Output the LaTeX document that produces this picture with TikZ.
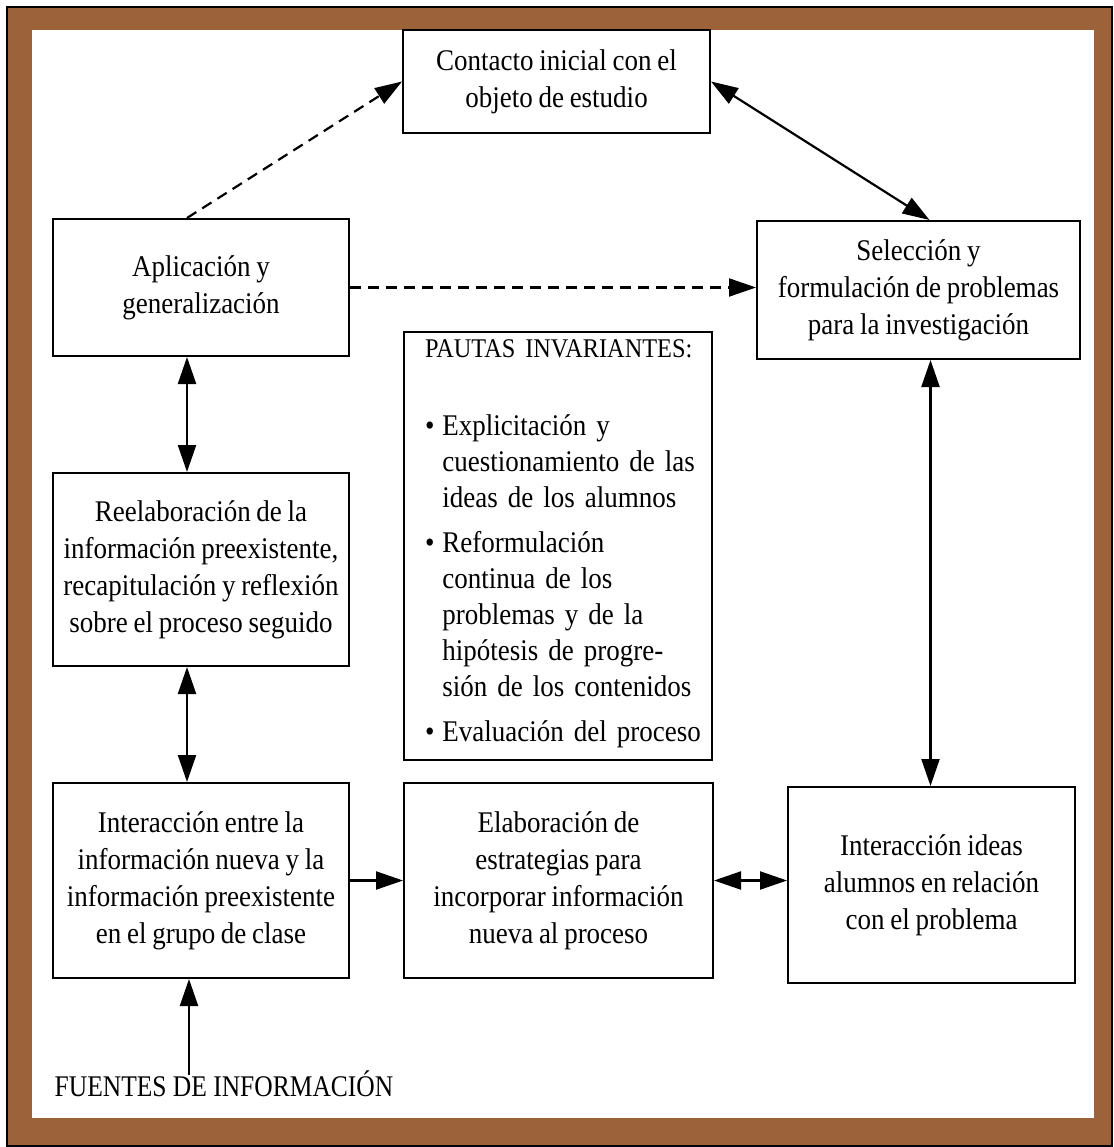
\documentclass[tikz,border=0pt]{standalone}
\usepackage{fontspec}
\setmainfont[FakeStretch=0.9, WordSpace=0.85]{Liberation Serif}
\newfontfamily\sourcefont[FakeStretch=0.85]{Liberation Serif}
\usetikzlibrary{arrows.meta,calc}
\definecolor{framebrown}{HTML}{9C633A}
\begin{document}
\begin{tikzpicture}[x=1pt,y=-1pt,
  txt/.style={font=\fontsize{30}{37}\selectfont},
  box/.style={txt, draw, line width=2pt, align=center, inner sep=0pt},
  link/.style={line width=2.2pt, -{Triangle[length=27pt,width=18pt]}},
  both/.style={line width=2.2pt, {Triangle[length=27pt,width=18pt]}-{Triangle[length=27pt,width=18pt]}},
  dashlink/.style={link, dash pattern=on 11pt off 7pt}]

% page and brown frame
\path[fill=white, use as bounding box] (0,0) rectangle (1113,1147);
\draw[fill=framebrown, line width=2pt] (7,7) rectangle (1112,1146);
\fill[white] (32,30) rectangle (1094,1118);

% boxes
\node[box, minimum width=307pt, minimum height=103pt] (contacto) at (556.5,81.5)
  {Contacto inicial con el\\objeto de estudio};
\node[box, minimum width=323pt, minimum height=138pt] (sel) at (918.5,290)
  {Selección y\\formulación de problemas\\para la investigación};
\node[box, minimum width=296pt, minimum height=137pt] (aplic) at (201,287.5)
  {Aplicación y\\generalización};
\node[box, minimum width=296pt, minimum height=193pt] (reelab) at (201,569.5)
  {Reelaboración de la\\información preexistente,\\recapitulación y reflexión\\sobre el proceso seguido};
\node[box, minimum width=296pt, minimum height=195pt] (inter) at (201,880.5)
  {Interacción entre la\\información nueva y la\\información preexistente\\en el grupo de clase};
\node[box, minimum width=309pt, minimum height=195pt] (elab) at (558.5,880.5)
  {Elaboración de\\estrategias para\\incorporar información\\nueva al proceso};
\node[box, minimum width=287pt, minimum height=196pt] (ideas) at (931.5,885)
  {Interacción ideas\\alumnos en relación\\con el problema};

% central list of invariant guidelines
\node[box, minimum width=308pt, minimum height=428pt, text width=266pt,
      inner xsep=21pt, align=left] (pautas) at (558,546)
  {\makebox[266pt][l]{\fontsize{27}{37}\selectfont PAUTAS INVARIANTES:}\\[41pt]
   \fontsize{30}{36}\selectfont
   \begin{tabular}[t]{@{}l@{\hspace{8pt}}l@{}}
   \textbullet & Explicitación y\\
               & cuestionamiento de las\\
               & ideas de los alumnos\\[9pt]
   \textbullet & Reformulación\\
               & continua de los\\
               & problemas y de la\\
               & hipótesis de progre-\\
               & sión de los contenidos\\[9pt]
   \textbullet & Evaluación del proceso
   \end{tabular}};

\node[font=\sourcefont\fontsize{30}{37}\selectfont, inner sep=0pt] (fuentes) at (224,1084)
  {FUENTES DE INFORMACIÓN};

% connectors
\draw[dashlink] ([xshift=-14pt]aplic.north) -- (contacto.west);
\draw[both] (contacto.east) -- ([xshift=11pt]sel.north);
\draw[dashlink] (aplic.east) -- (aplic.east -| sel.west);
\draw[both] ([xshift=-14pt]aplic.south) -- ([xshift=-14pt]reelab.north);
\draw[both] ([xshift=-14pt]reelab.south) -- ([xshift=-14pt]inter.north);
\coordinate (sx) at ([xshift=12pt]sel.south);
\draw[both] (sx) -- (sx |- ideas.north);
\draw[link] (inter.east) -- (inter.east -| elab.west);
\draw[both] (elab.east) -- (elab.east -| ideas.west);
\coordinate (fx) at ([xshift=-12pt]inter.south);
\draw[link] ([yshift=-4pt]fx |- fuentes.north) -- (fx);
\end{tikzpicture}
\end{document}
